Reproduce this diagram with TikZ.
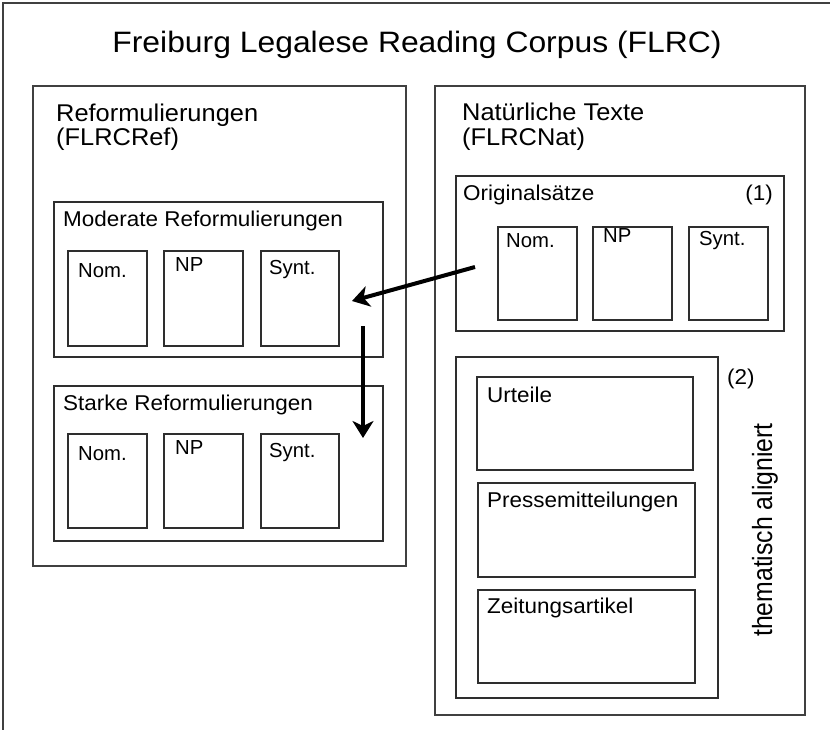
\documentclass[tikz,border=0pt]{standalone}
\usepackage{fontspec}
\usepackage{graphicx}
\setmainfont{Liberation Sans}
\newfontfamily\wideA{Liberation Sans}[FakeStretch=1.08]
\newfontfamily\wideB{Liberation Sans}[FakeStretch=1.05]
\usetikzlibrary{arrows.meta,fit}
\newcommand\ftitle{\wideA\fontsize{29.5}{35}\selectfont}
\newcommand\fbig{\wideB\fontsize{24.2}{29}\selectfont}
\newcommand\fmid{\wideB\fontsize{21.4}{25}\selectfont}
\newcommand\fsmall{\fontsize{20.3}{24}\selectfont}

\begin{document}
\begin{tikzpicture}[x=1pt,y=-1pt,
  frame/.style={draw=black!75, line width=1.5pt, inner sep=0pt},
  box/.style={draw=black!82, line width=1.3pt, inner sep=0pt},
  lbl/.style={anchor=base west, inner sep=0pt, font=\fmid},
  biglbl/.style={anchor=base west, inner sep=0pt, font=\fbig},
  smalllbl/.style={anchor=base west, inner sep=0pt, font=\fsmall},
  bigarrow/.style={line width=4pt, -{Stealth[length=17pt, width=21pt, inset=5pt]}}
]
\useasboundingbox (0,0) rectangle (830,729);
\fill[white] (0,0) rectangle (830,729);

% outer frame (runs past the right and bottom page edges)
\node[frame, fit={(3,3) (850,760)}] (outer) {};
\node[anchor=base, inner sep=0pt, font=\ftitle] (title) at (417,52) {Freiburg Legalese Reading Corpus (FLRC)};

% ---- left column: reformulations
\node[frame, fit={(33,86) (406,566)}] (ref) {};
\node[biglbl] (refA) at (56,121) {Reformulierungen};
\node[biglbl] (refB) at (56,145) {(FLRCRef)};

\node[box, fit={(54,202) (383,357)}] (mod) {};
\node[lbl] (modT) at (63,226) {Moderate Reformulierungen};
\node[box, fit={(68,251) (147,346)}] (modNom) {};
\node[box, fit={(164,251) (243,346)}] (modNP) {};
\node[box, fit={(261,251) (339,346)}] (modSyn) {};
\node[smalllbl] at (78,277) (modNomT) {Nom.};
\node[smalllbl] at (175,271) (modNPT) {NP};
\node[smalllbl] at (269,274) (modSynT) {Synt.};

\node[box, fit={(54,386) (383,541)}] (str) {};
\node[lbl] (strT) at (63,410) {Starke Reformulierungen};
\node[box, fit={(68,434) (147,528)}] (strNom) {};
\node[box, fit={(164,434) (243,528)}] (strNP) {};
\node[box, fit={(261,434) (339,528)}] (strSyn) {};
\node[smalllbl] at (78,460) (strNomT) {Nom.};
\node[smalllbl] at (175,454) (strNPT) {NP};
\node[smalllbl] at (269,457) (strSynT) {Synt.};

% ---- right column: natural texts
\node[frame, fit={(435,86) (805,715)}] (nat) {};
\node[biglbl] (natA) at (462,120) {Natürliche Texte};
\node[biglbl] (natB) at (462,145) {(FLRCNat)};

\node[box, fit={(456,176) (784,331)}] (orig) {};
\node[lbl] (origT) at (463,200) {Originalsätze};
\node[anchor=base east, inner sep=0pt, font=\fmid] (one) at (773,200) {(1)};
\node[box, fit={(498,227) (577,320)}] (origNom) {};
\node[box, fit={(593,227) (672,320)}] (origNP) {};
\node[box, fit={(689,227) (768,320)}] (origSyn) {};
\node[smalllbl] at (506,247) (origNomT) {Nom.};
\node[smalllbl] at (603,242) (origNPT) {NP};
\node[smalllbl] at (699,245) (origSynT) {Synt.};

\node[box, fit={(456,357) (718,698)}] (them) {};
\node[lbl] (two) at (727,384) {(2)};
\node[box, fit={(477,377) (693,470)}] (urt) {};
\node[lbl] (urtT) at (487,402) {Urteile};
\node[box, fit={(478,483) (695,577)}] (pm) {};
\node[lbl] (pmT) at (487,507) {Pressemitteilungen};
\node[box, fit={(478,590) (695,683)}] (za) {};
\node[lbl] (zaT) at (487,613) {Zeitungsartikel};
\node[anchor=base, rotate=90, inner sep=0pt] (thm) at (772,530)
  {\fontsize{24.8}{29}\selectfont\scalebox{1}[1.12]{thematisch aligniert}};

% ---- arrows
\coordinate (a1s) at (475,267);
\coordinate (a1e) at (352,301);
\coordinate (a2s) at (363,326);
\coordinate (a2e) at (363,438);
\draw[bigarrow] (a1s) -- (a1e);
\draw[bigarrow] (a2s) -- (a2e);
\end{tikzpicture}
\end{document}
